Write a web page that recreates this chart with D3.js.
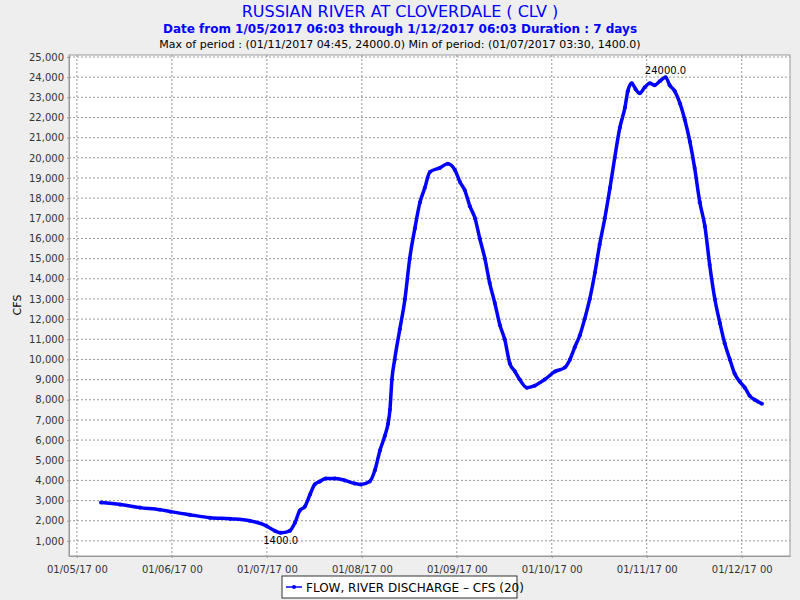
<!DOCTYPE html>
<html><head><meta charset="utf-8">
<script src="https://cdn.jsdelivr.net/npm/d3@7"></script>
<style>body{margin:0;background:#eeeeee;font-family:"DejaVu Sans",sans-serif}</style>
</head><body><svg id="c" width="800" height="600"></svg>
<script>
const hours=[6.1,10.9,15.9,21,23.7,28.5,33.6,38.7,43.7,47.8,50,51.5,53.8,55.1,56.3,57.6,58.9,60.1,61.4,62.9,65.2,67.7,70.2,71.8,74,75.3,76.6,77.8,78.6,79.1,79.6,80.3,81.6,82.9,84.1,85.4,86.7,87.9,89.2,91.7,93.7,95.5,96.8,98,99.3,100.6,101.8,103.1,104.3,105.6,106.9,108.1,109.4,110.7,111.9,113.7,115.7,118.2,120.8,123.3,124.6,125.8,127.1,128.3,129.6,130.9,132.1,133.4,134.7,135.9,137.2,138.5,139.2,140.2,141.2,142.2,143.5,144.8,146,147.3,148.75,149.8,151.1,152.4,153.6,154.9,156.1,157.4,158.7,159.9,161.2,162.5,163.7,165,166.2,167.5,168.8,170,171.3,173.1];
const flow=[2900,2800,2650,2550,2450,2300,2150,2100,2000,1750,1500,1400,1500,1900,2500,2700,3300,3800,3950,4100,4100,4000,3850,3800,3950,4500,5500,6200,6800,7500,9000,10000,11500,13000,15000,16500,17800,18500,19300,19500,19700,19400,18800,18400,17600,17000,16000,15000,13800,12800,11700,11000,9800,9400,9000,8600,8700,9000,9400,9600,10000,10600,11200,12000,13000,14300,15700,17000,18500,20000,21500,22500,23300,23700,23400,23200,23500,23700,23600,23800,24000,23600,23300,22700,21900,20800,19500,17800,16600,14700,13000,11800,10800,10000,9300,8900,8600,8200,8000,7800];
const xTickLabels=["01/05/17 00","01/06/17 00","01/07/17 00","01/08/17 00","01/09/17 00","01/10/17 00","01/11/17 00","01/12/17 00"];
const yTicks=d3.range(1000,25001,1000);

const svg=d3.select("#c");
const L=69,R=790,T=55,B=556;
const x=d3.scaleLinear().domain([-2,180.2]).range([L,R]);
const y=d3.scaleLinear().domain([250,25100]).range([B,T]);
svg.append("rect").attr("x",L).attr("y",T).attr("width",R-L).attr("height",B-T).attr("fill","#fff").attr("stroke","#999");
const g=svg.append("g");
xTickLabels.forEach((t,i)=>{
  g.append("line").attr("x1",x(i*24)).attr("x2",x(i*24)).attr("y1",T).attr("y2",B).attr("stroke","#999").attr("stroke-dasharray","2,2");
});
yTicks.forEach(v=>{
  g.append("line").attr("x1",L).attr("x2",R).attr("y1",y(v)).attr("y2",y(v)).attr("stroke","#999").attr("stroke-dasharray","2,2");
});
const xa=svg.append("g").attr("transform",`translate(0,${B})`).call(d3.axisBottom(x).tickValues(xTickLabels.map((d,i)=>i*24)).tickFormat((d,i)=>xTickLabels[i]).tickSize(2).tickSizeOuter(0));
const ya=svg.append("g").attr("transform",`translate(${L},0)`).call(d3.axisLeft(y).tickValues(yTicks).tickFormat(d3.format(",")).tickSize(2).tickSizeOuter(0));
[xa,ya].forEach(a=>{a.selectAll("text").attr("font-size",10).attr("font-family","DejaVu Sans").attr("fill","#333");a.selectAll("path").attr("stroke","#999");a.selectAll("line").attr("stroke","#999");});
xa.selectAll("text").attr("dy","1.2em");
const data=hours.map((h,i)=>[h,flow[i]]);
svg.append("path").datum(data).attr("d",d3.line().x(d=>x(d[0])).y(d=>y(d[1])).curve(d3.curveMonotoneX)).attr("fill","none").attr("stroke","#0000ff").attr("stroke-width",3.5);
svg.selectAll(".pt").data(data).enter().append("circle").attr("cx",d=>x(d[0])).attr("cy",d=>y(d[1])).attr("r",2).attr("fill","#0000ff");
svg.append("text").attr("x",x(148.75)).attr("y",y(24000)-3).attr("text-anchor","middle").attr("font-size",10).text("24000.0");
svg.append("text").attr("x",x(51.5)).attr("y",y(1400)+11).attr("text-anchor","middle").attr("font-size",10).text("1400.0");
svg.append("text").attr("x",400).attr("y",17).attr("text-anchor","middle").attr("font-size",16).attr("fill","#0000ff").text("RUSSIAN RIVER AT CLOVERDALE ( CLV )");
svg.append("text").attr("x",400).attr("y",33).attr("text-anchor","middle").attr("font-size",12).attr("font-weight","bold").attr("fill","#0000ff").text("Date from 1/05/2017 06:03 through 1/12/2017 06:03 Duration : 7 days");
svg.append("text").attr("x",400).attr("y",48).attr("text-anchor","middle").attr("font-size",11).text("Max of period : (01/11/2017 04:45, 24000.0)  Min of period: (01/07/2017 03:30,  1400.0)");
svg.append("text").attr("transform","translate(21,305) rotate(-90)").attr("text-anchor","middle").attr("font-size",11).text("CFS");
svg.append("rect").attr("x",282).attr("y",576).attr("width",235).attr("height",22).attr("fill","#fff").attr("stroke","#333");
svg.append("line").attr("x1",286).attr("x2",302).attr("y1",587).attr("y2",587).attr("stroke","#0000ff").attr("stroke-width",1.5);
svg.append("circle").attr("cx",294).attr("cy",587).attr("r",2).attr("fill","#0000ff");
svg.append("text").attr("x",306).attr("y",591.5).attr("font-size",12).text("FLOW, RIVER DISCHARGE – CFS (20)");
</script></body></html>
